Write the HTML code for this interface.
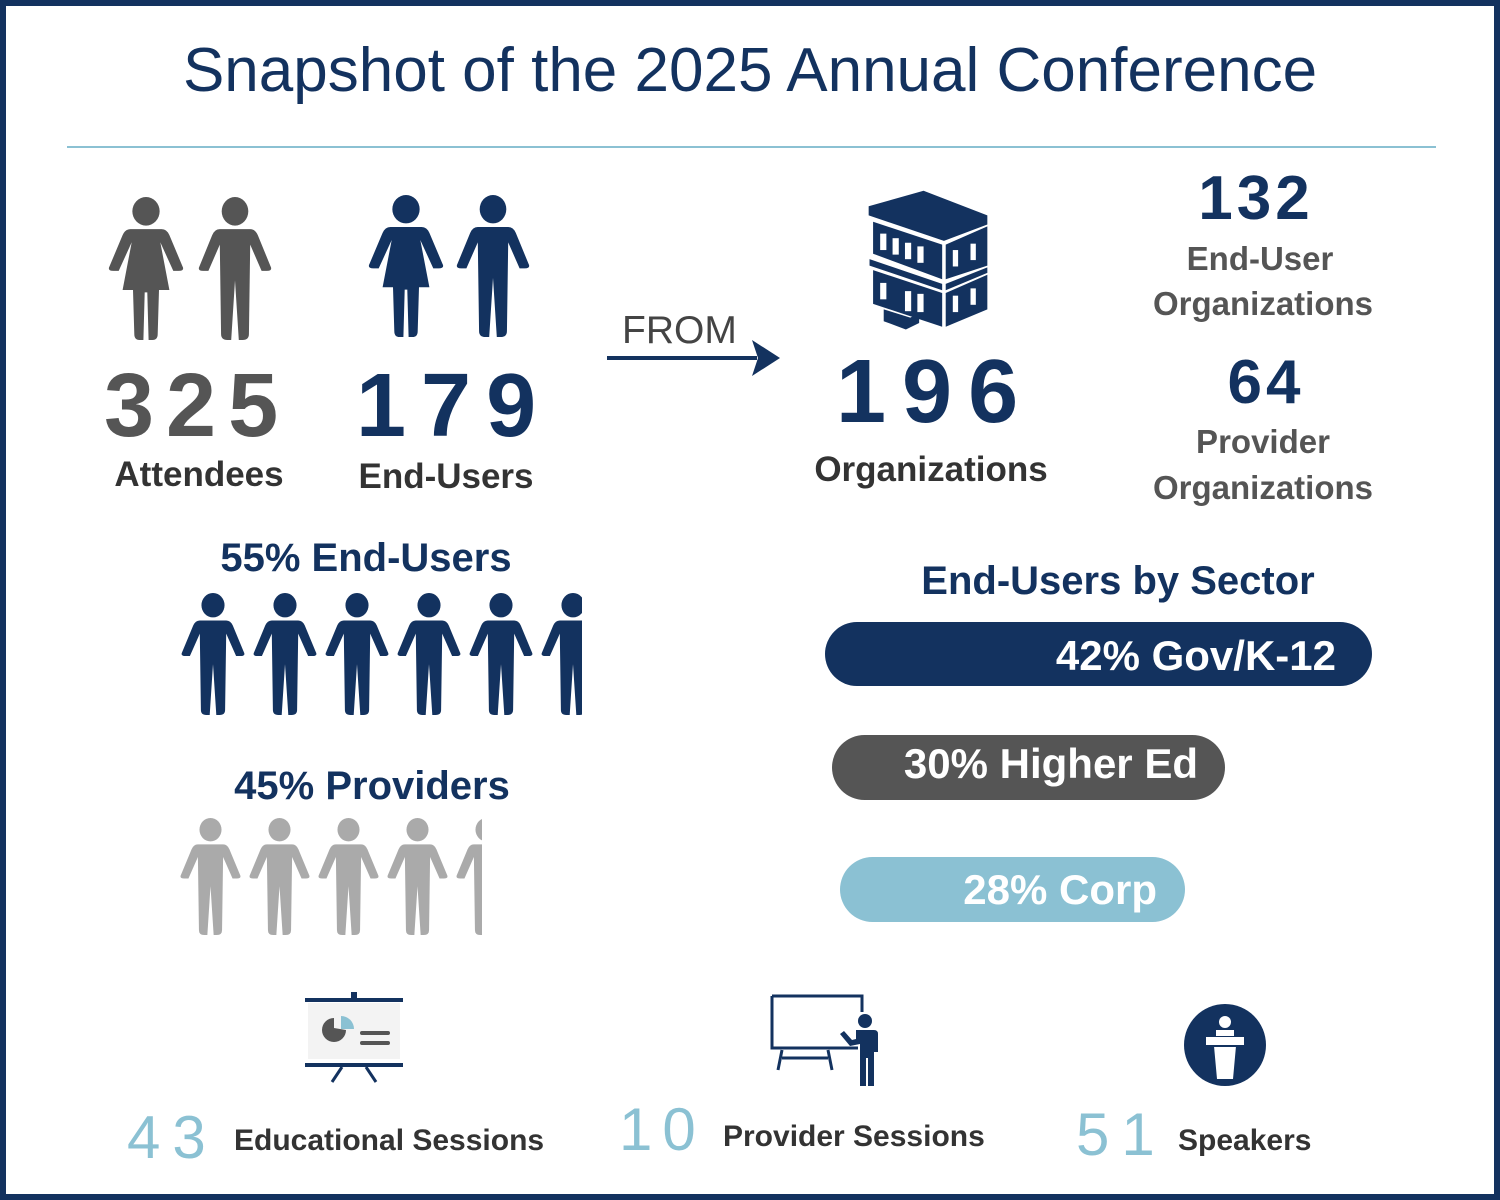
<!DOCTYPE html>
<html><head><style>
body{margin:0;width:1500px;height:1200px;position:relative;background:#fff;font-family:"Liberation Sans",sans-serif;overflow:hidden}
.frame{position:absolute;left:0;top:0;width:1488px;height:1188px;border:6px solid #13325f}
.t{position:absolute;white-space:nowrap;line-height:1}
.c{transform:translateX(-50%)}
.bar{position:absolute;border-radius:33px;color:#fff;font-weight:bold;font-size:42px;text-align:right;box-sizing:border-box}
svg{position:absolute}
</style></head><body>
<div class="frame"></div>
<svg width="0" height="0" style="position:absolute">
<defs>
<symbol id="man" viewBox="0 0 60 120" preserveAspectRatio="none"><ellipse cx="30" cy="12" rx="10.5" ry="12"/><path d="M18,27 Q14,27 12,32 L2,58 Q0,62 5,62 L9,62 L18,40 L19,115 Q19,120 24,120 L27,120 L30,70 L33,120 L36,120 Q41,120 41,115 L42,40 L51,62 L55,62 Q60,62 58,58 L48,32 Q46,27 42,27 Z"/></symbol>
<symbol id="woman" viewBox="0 0 60 120" preserveAspectRatio="none"><ellipse cx="30" cy="12" rx="10.5" ry="12"/><path d="M18,27 Q14,27 12,32 L2,58 Q0,62 5,62 L9,62 L19,38 L12,78 L20,78 L21,115 Q21,120 25,120 L28,120 L29,80 L31,80 L32,120 L35,120 Q39,120 39,115 L40,78 L48,78 L41,38 L51,62 L55,62 Q60,62 58,58 L48,32 Q46,27 42,27 Z"/></symbol>
</defs></svg>

<div class="t c" style="left:750px;top:40px;font-size:62px;color:#13325f">Snapshot of the 2025 Annual Conference</div>
<div style="position:absolute;left:67px;top:146px;width:1369px;height:2px;background:#8bc1d3"></div>

<svg style="left:107px;top:197px" width="78" height="143" fill="#555"><use href="#woman" width="78" height="143"/></svg>
<svg style="left:197px;top:197px" width="76" height="143" fill="#555"><use href="#man" width="76" height="143"/></svg>
<svg style="left:367px;top:195px" width="78" height="142" fill="#13325f"><use href="#woman" width="78" height="142"/></svg>
<svg style="left:455px;top:195px" width="76" height="142" fill="#13325f"><use href="#man" width="76" height="142"/></svg>

<div class="t" style="left:104px;top:361px;font-size:90px;color:#555;font-weight:bold;letter-spacing:12px">325</div>
<div class="t" style="left:356px;top:361px;font-size:90px;color:#13325f;font-weight:bold;letter-spacing:15px">179</div>
<div class="t c" style="left:199px;top:457px;font-size:35px;font-weight:bold;color:#333">Attendees</div>
<div class="t c" style="left:446px;top:459px;font-size:35px;font-weight:bold;color:#333">End-Users</div>

<div class="t" style="left:622px;top:311px;font-size:39px;color:#444">FROM</div>
<div style="position:absolute;left:607px;top:356px;width:150px;height:4px;background:#13325f"></div>
<svg style="left:752px;top:340px" width="30" height="36"><polygon points="0,0 28,18 0,36 6,18" fill="#13325f"/></svg>

<svg style="left:866px;top:188px" width="124" height="146" viewBox="0 0 140 160" preserveAspectRatio="none" fill="#13325f">
<polygon points="3,20 65,3 137,30 137,40 88,58 3,30"/>
<polygon points="8,37 86,62 86,100 8,72" /><polygon points="90,62 137,42 137,85 90,100"/>
<polygon points="4,78 86,105 86,112 4,85"/><polygon points="90,105 137,87 137,93 90,112"/>
<polygon points="8,90 86,115 86,152 8,127"/><polygon points="90,115 137,95 137,133 90,152"/>
<g fill="#fff"><rect x="16" y="50" width="7" height="18"/><rect x="30" y="55" width="7" height="18"/><rect x="44" y="60" width="7" height="18"/><rect x="58" y="64" width="7" height="18"/><rect x="98" y="68" width="6" height="18"/><rect x="118" y="61" width="6" height="18"/>
<rect x="16" y="104" width="7" height="18"/><rect x="44" y="113" width="7" height="22"/><rect x="58" y="116" width="7" height="20"/><rect x="98" y="118" width="6" height="18"/><rect x="118" y="110" width="6" height="18"/></g>
<polygon points="20,133 50,142 60,137 60,148 45,155 20,146"/>
</svg>
<div class="t" style="left:836px;top:347px;font-size:90px;color:#13325f;font-weight:bold;letter-spacing:16px">196</div>
<div class="t c" style="left:931px;top:452px;font-size:35px;font-weight:bold;color:#333">Organizations</div>

<div class="t c" style="left:1256px;top:168px;font-size:62px;color:#13325f;font-weight:bold;letter-spacing:4px">132</div>
<div class="t c" style="left:1260px;top:242px;font-size:33px;font-weight:bold;color:#555">End-User</div>
<div class="t c" style="left:1263px;top:287px;font-size:33px;font-weight:bold;color:#555">Organizations</div>
<div class="t c" style="left:1266px;top:352px;font-size:62px;color:#13325f;font-weight:bold;letter-spacing:4px">64</div>
<div class="t c" style="left:1263px;top:425px;font-size:33px;font-weight:bold;color:#555">Provider</div>
<div class="t c" style="left:1263px;top:471px;font-size:33px;font-weight:bold;color:#555">Organizations</div>

<div class="t c" style="left:366px;top:538px;font-size:40px;font-weight:bold;color:#13325f">55% End-Users</div>
<div style="position:absolute;left:178px;top:592px;width:404px;height:125px;overflow:hidden">
<svg style="left:2px;top:1px" width="66" height="122" fill="#13325f"><use href="#man" width="66" height="122"/></svg>
<svg style="left:74px;top:1px" width="66" height="122" fill="#13325f"><use href="#man" width="66" height="122"/></svg>
<svg style="left:146px;top:1px" width="66" height="122" fill="#13325f"><use href="#man" width="66" height="122"/></svg>
<svg style="left:218px;top:1px" width="66" height="122" fill="#13325f"><use href="#man" width="66" height="122"/></svg>
<svg style="left:290px;top:1px" width="66" height="122" fill="#13325f"><use href="#man" width="66" height="122"/></svg>
<svg style="left:362px;top:1px" width="66" height="122" fill="#13325f"><use href="#man" width="66" height="122"/></svg>
</div>
<div class="t c" style="left:372px;top:766px;font-size:40px;font-weight:bold;color:#13325f">45% Providers</div>
<div style="position:absolute;left:178px;top:817px;width:304px;height:120px;overflow:hidden">
<svg style="left:1px;top:1px" width="63" height="117" fill="#aaa"><use href="#man" width="63" height="117"/></svg>
<svg style="left:70px;top:1px" width="63" height="117" fill="#aaa"><use href="#man" width="63" height="117"/></svg>
<svg style="left:139px;top:1px" width="63" height="117" fill="#aaa"><use href="#man" width="63" height="117"/></svg>
<svg style="left:208px;top:1px" width="63" height="117" fill="#aaa"><use href="#man" width="63" height="117"/></svg>
<svg style="left:277px;top:1px" width="63" height="117" fill="#aaa"><use href="#man" width="63" height="117"/></svg>
</div>

<div class="t c" style="left:1118px;top:561px;font-size:40px;font-weight:bold;color:#13325f">End-Users by Sector</div>
<div class="bar" style="left:825px;top:622px;width:547px;height:64px;background:#13325f;padding:10px 36px 0 0">42% Gov/K-12</div>
<div class="bar" style="left:832px;top:735px;width:393px;height:65px;background:#555;padding:5px 27px 0 0">30% Higher Ed</div>
<div class="bar" style="left:840px;top:857px;width:345px;height:65px;background:#8bc1d3;padding:9px 28px 0 0">28% Corp</div>

<svg style="left:305px;top:992px" width="100" height="92">
<rect x="0" y="6" width="98" height="4" fill="#13325f"/><rect x="46" y="0" width="6" height="8" fill="#13325f"/>
<rect x="3" y="11" width="92" height="56" fill="#f3f3f3"/>
<path d="M37,36 L37,26 A12,12 0 1 0 49,38 Z" fill="#555" transform="translate(-8,0)"/>
<path d="M36,24 L36,37 L49,37 A13,13 0 0 0 36,24 Z" fill="#8bc1d3"/>
<rect x="55" y="39" width="30" height="4" rx="2" fill="#555"/><rect x="55" y="49" width="30" height="4" rx="2" fill="#555"/>
<rect x="0" y="71" width="98" height="4" fill="#13325f"/>
<path d="M37,75 L27,90 M61,75 L71,90" stroke="#13325f" stroke-width="3"/>
</svg>
<div class="t" style="left:127px;top:1108px;font-size:60px;color:#8bc1d3;letter-spacing:12px">43</div>
<div class="t" style="left:234px;top:1126px;font-size:30px;font-weight:bold;color:#333">Educational Sessions</div>

<svg style="left:770px;top:994px" width="115" height="95">
<path d="M2,2 H92 V18 M2,2 V54 H88" stroke="#13325f" stroke-width="3" fill="none"/>
<path d="M12,56 L8,76 M58,56 L62,76 M12,64 H58" stroke="#13325f" stroke-width="3"/>
<circle cx="95" cy="27" r="7" fill="#13325f"/>
<path d="M86,36 H104 Q108,36 108,40 V58 H104 V92 H98 V64 H96 V92 H90 V50 L80,52 L70,40 L74,37 L82,46 L86,45 Z" fill="#13325f"/>
</svg>
<div class="t" style="left:619px;top:1100px;font-size:60px;color:#8bc1d3;letter-spacing:10px">10</div>
<div class="t" style="left:723px;top:1122px;font-size:30px;font-weight:bold;color:#333">Provider Sessions</div>

<svg style="left:1184px;top:1004px" width="82" height="82">
<circle cx="41" cy="41" r="41" fill="#13325f"/>
<circle cx="41" cy="18" r="6" fill="#fff"/>
<path d="M32,26 H50 V32 H32 Z M22,33 H60 V41 H22 Z M30,42 H52 L49,75 H33 Z" fill="#fff"/>
<rect x="26" y="41" width="30" height="2" fill="#13325f"/>
</svg>
<div class="t" style="left:1076px;top:1105px;font-size:60px;color:#8bc1d3;letter-spacing:12px">51</div>
<div class="t" style="left:1178px;top:1126px;font-size:30px;font-weight:bold;color:#333">Speakers</div>
</body></html>
